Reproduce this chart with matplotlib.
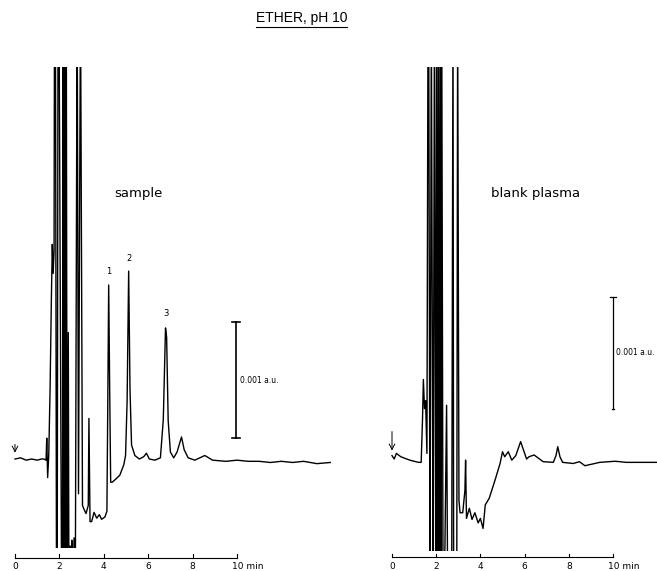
import numpy as np
import matplotlib
matplotlib.use("Agg")
import matplotlib.pyplot as plt

# sample trace (min, mAU); 4.0 / -1.2 = pen off scale
sample_t = [0.0, 0.25, 0.5, 0.75, 1.0, 1.2, 1.3, 1.40, 1.43, 1.47, 1.52, 1.58, 1.64,
            1.68, 1.72, 1.76, 1.78, 1.82, 1.87, 1.90, 1.94, 1.98, 2.10, 2.14, 2.16,
            2.19, 2.21, 2.24, 2.26, 2.29, 2.31, 2.35, 2.40, 2.43, 2.48, 2.52, 2.56,
            2.62, 2.66, 2.72, 2.80, 2.86, 2.95, 3.04, 3.10, 3.20, 3.30, 3.33, 3.38,
            3.45, 3.56, 3.68, 3.80, 3.90, 4.05, 4.14, 4.18, 4.22, 4.27, 4.31, 4.38,
            4.50, 4.72, 4.90, 4.98, 5.05, 5.12, 5.18, 5.25, 5.40, 5.60, 5.80, 5.92,
            6.05, 6.30, 6.55, 6.68, 6.78, 6.83, 6.90, 7.00, 7.15, 7.30, 7.50, 7.62,
            7.80, 8.10, 8.55, 8.90, 9.50, 10.0, 10.5, 11.0, 11.5, 12.0, 12.5, 13.0,
            13.6, 14.2]
sample_y = [0.0, 0.01, -0.01, 0.0, -0.01, 0.0, 0.0, -0.01, 0.18, -0.16, 0.03, 0.6, 1.4,
            1.85, 1.6, 1.8, 4.0, 4.0, -1.2, -1.2, 4.0, 4.0, -1.2, -1.2, 4.0,
            -1.2, 4.0, -1.2, 4.0, -1.2, 4.0, -1.2, 1.09, -1.2, -0.75, -1.2, -0.7,
            -1.2, -0.68, -0.9, 4.0, -0.3, 4.0, -0.40, -0.43, -0.47, -0.40, 0.35, -0.54,
            -0.54, -0.46, -0.51, -0.48, -0.52, -0.50, -0.45, 0.5, 1.50, 0.5, -0.2, -0.2,
            -0.18, -0.14, -0.05, 0.03, 0.5, 1.62, 0.6, 0.12, 0.03, 0.0, 0.02, 0.05,
            0.0, -0.01, 0.01, 0.34, 1.13, 1.05, 0.33, 0.06, 0.01, 0.06, 0.19, 0.08,
            0.01, -0.01, 0.03, -0.01, -0.02, -0.01, -0.02, -0.02, -0.03, -0.02, -0.03, -0.02,
            -0.04, -0.03]

# blank plasma trace
blank_t = [0.0, 0.1, 0.2, 0.4, 0.8, 1.2, 1.32, 1.38, 1.42, 1.47, 1.52, 1.58, 1.63,
           1.66, 1.72, 1.78, 1.86, 1.92, 1.98, 2.02, 2.06, 2.10, 2.13, 2.18, 2.21,
           2.25, 2.31, 2.37, 2.47, 2.52, 2.70, 2.76, 2.79, 2.93, 2.97, 3.03, 3.08,
           3.20, 3.30, 3.33, 3.37, 3.50, 3.62, 3.75, 3.90, 4.00, 4.12, 4.22, 4.40,
           4.66, 4.89, 5.00, 5.10, 5.26, 5.42, 5.60, 5.82, 6.09, 6.20, 6.43, 6.84,
           7.30, 7.42, 7.50, 7.60, 7.72, 8.20, 8.48, 8.73, 9.40, 10.1, 10.6, 11.2, 12.0]
blank_y = [0.03, 0.0, 0.05, 0.02, -0.01, -0.03, -0.03, 0.35, 0.71, 0.45, 0.52, 0.05, 4.0,
           4.0, -1.2, 4.0, -1.2, 4.0, -1.2, 4.0, -1.2, 4.0, -1.2, 4.0, -1.2,
           4.0, -1.2, -1.2, 0.48, -1.2, -1.2, 4.0, -1.2, -1.2, 4.0, -0.37, -0.48,
           -0.48, -0.28, -0.01, -0.53, -0.44, -0.54, -0.48, -0.57, -0.53, -0.62, -0.41, -0.35,
           -0.19, -0.04, 0.065, 0.02, 0.065, -0.01, 0.03, 0.155, 0.0, 0.02, 0.036, -0.024,
           -0.03, 0.03, 0.11, 0.02, -0.03, -0.04, -0.024, -0.06, -0.03, -0.02, -0.03, -0.03, -0.03]

peak_labels = ["1", "2", "3"]
peak_t = [4.22, 5.14, 6.80]
peak_y = [1.62, 1.73, 1.25]

tick_vals = [0, 2, 4, 6, 8]

W, H = 657, 571
fig = plt.figure(figsize=(W / 100, H / 100), dpi=100)
fig.patch.set_facecolor("white")


def place(px0, sx, py0, sy, xlim, ylim):
    # put an axes so that data units land on the scan's pixel positions
    ax = fig.add_axes([0, 0, 1, 1])
    l = px0 + xlim[0] * sx
    r = px0 + xlim[1] * sx
    t = py0 - ylim[1] * sy
    b = py0 - ylim[0] * sy
    ax.set_position([l / W, 1 - b / H, (r - l) / W, (b - t) / H])
    ax.set_xlim(xlim)
    ax.set_ylim(ylim)
    ax.axis("off")
    return ax


def time_axis(ax, y0, ylab, tick_h):
    ax.plot([0, 10], [y0, y0], color="black", lw=0.8, clip_on=False)
    for v in tick_vals + [10]:
        ax.plot([v, v], [y0, y0 + tick_h], color="black", lw=0.8, clip_on=False)
    for v in tick_vals:
        ax.text(v, ylab, str(v), ha="center", va="center", fontsize=6.5, clip_on=False)
    ax.text(9.78, ylab, "10 min", ha="left", va="center", fontsize=6.5, clip_on=False)


# left panel: sample
ax1 = place(15, 22.2, 459, 116, (-0.6, 14.6), (-0.767, 3.38))
ax1.plot(sample_t, sample_y, color="black", lw=1.0)
time_axis(ax1, -0.853, -0.93, 0.03)
ax1.annotate("", xy=(0, 0.03), xytext=(0, 0.15),
             arrowprops=dict(arrowstyle="->", lw=0.7, color="black"))
for lab, t, y in zip(peak_labels, peak_t, peak_y):
    ax1.text(t, y, lab, ha="center", va="center", fontsize=6)
ax1.text(5.54, 2.29, "sample", ha="center", va="center", fontsize=9.5)
# scale bar 0.001 a.u.
ax1.plot([9.95, 9.95], [0.18, 1.18], color="black", lw=1.2)
ax1.plot([9.77, 10.13], [1.18, 1.18], color="black", lw=1.2)
ax1.plot([9.77, 10.13], [0.18, 0.18], color="black", lw=1.2)
ax1.text(10.13, 0.68, "0.001 a.u.", ha="left", va="center", fontsize=5.5)

# right panel: blank plasma
ax2 = place(392, 22.1, 459, 112, (-0.6, 12.0), (-0.82, 3.5))
ax2.plot(blank_t, blank_y, color="black", lw=1.0)
time_axis(ax2, -0.875, -0.96, 0.03)
ax2.annotate("", xy=(0, 0.05), xytext=(0, 0.27),
             arrowprops=dict(arrowstyle="->", lw=0.7, color="black"))
ax2.text(6.49, 2.375, "blank plasma", ha="center", va="center", fontsize=9.5)
ax2.plot([10.0, 10.0], [0.45, 1.45], color="black", lw=0.9)
ax2.plot([9.88, 10.12], [1.45, 1.45], color="black", lw=0.9)
ax2.plot([9.95, 10.05], [0.45, 0.45], color="black", lw=0.9)
ax2.text(10.13, 0.95, "0.001 a.u.", ha="left", va="center", fontsize=5.5)

# title, underlined
fig.text(302 / W, 1 - 18 / H, "ETHER, pH 10", ha="center", va="center",
         fontsize=10, family=["Liberation Sans", "DejaVu Sans"])
fig.add_artist(plt.Line2D([256 / W, 347 / W], [1 - 27 / H, 1 - 27 / H],
                          color="black", lw=0.8))

fig.savefig("out.png", dpi=100)
